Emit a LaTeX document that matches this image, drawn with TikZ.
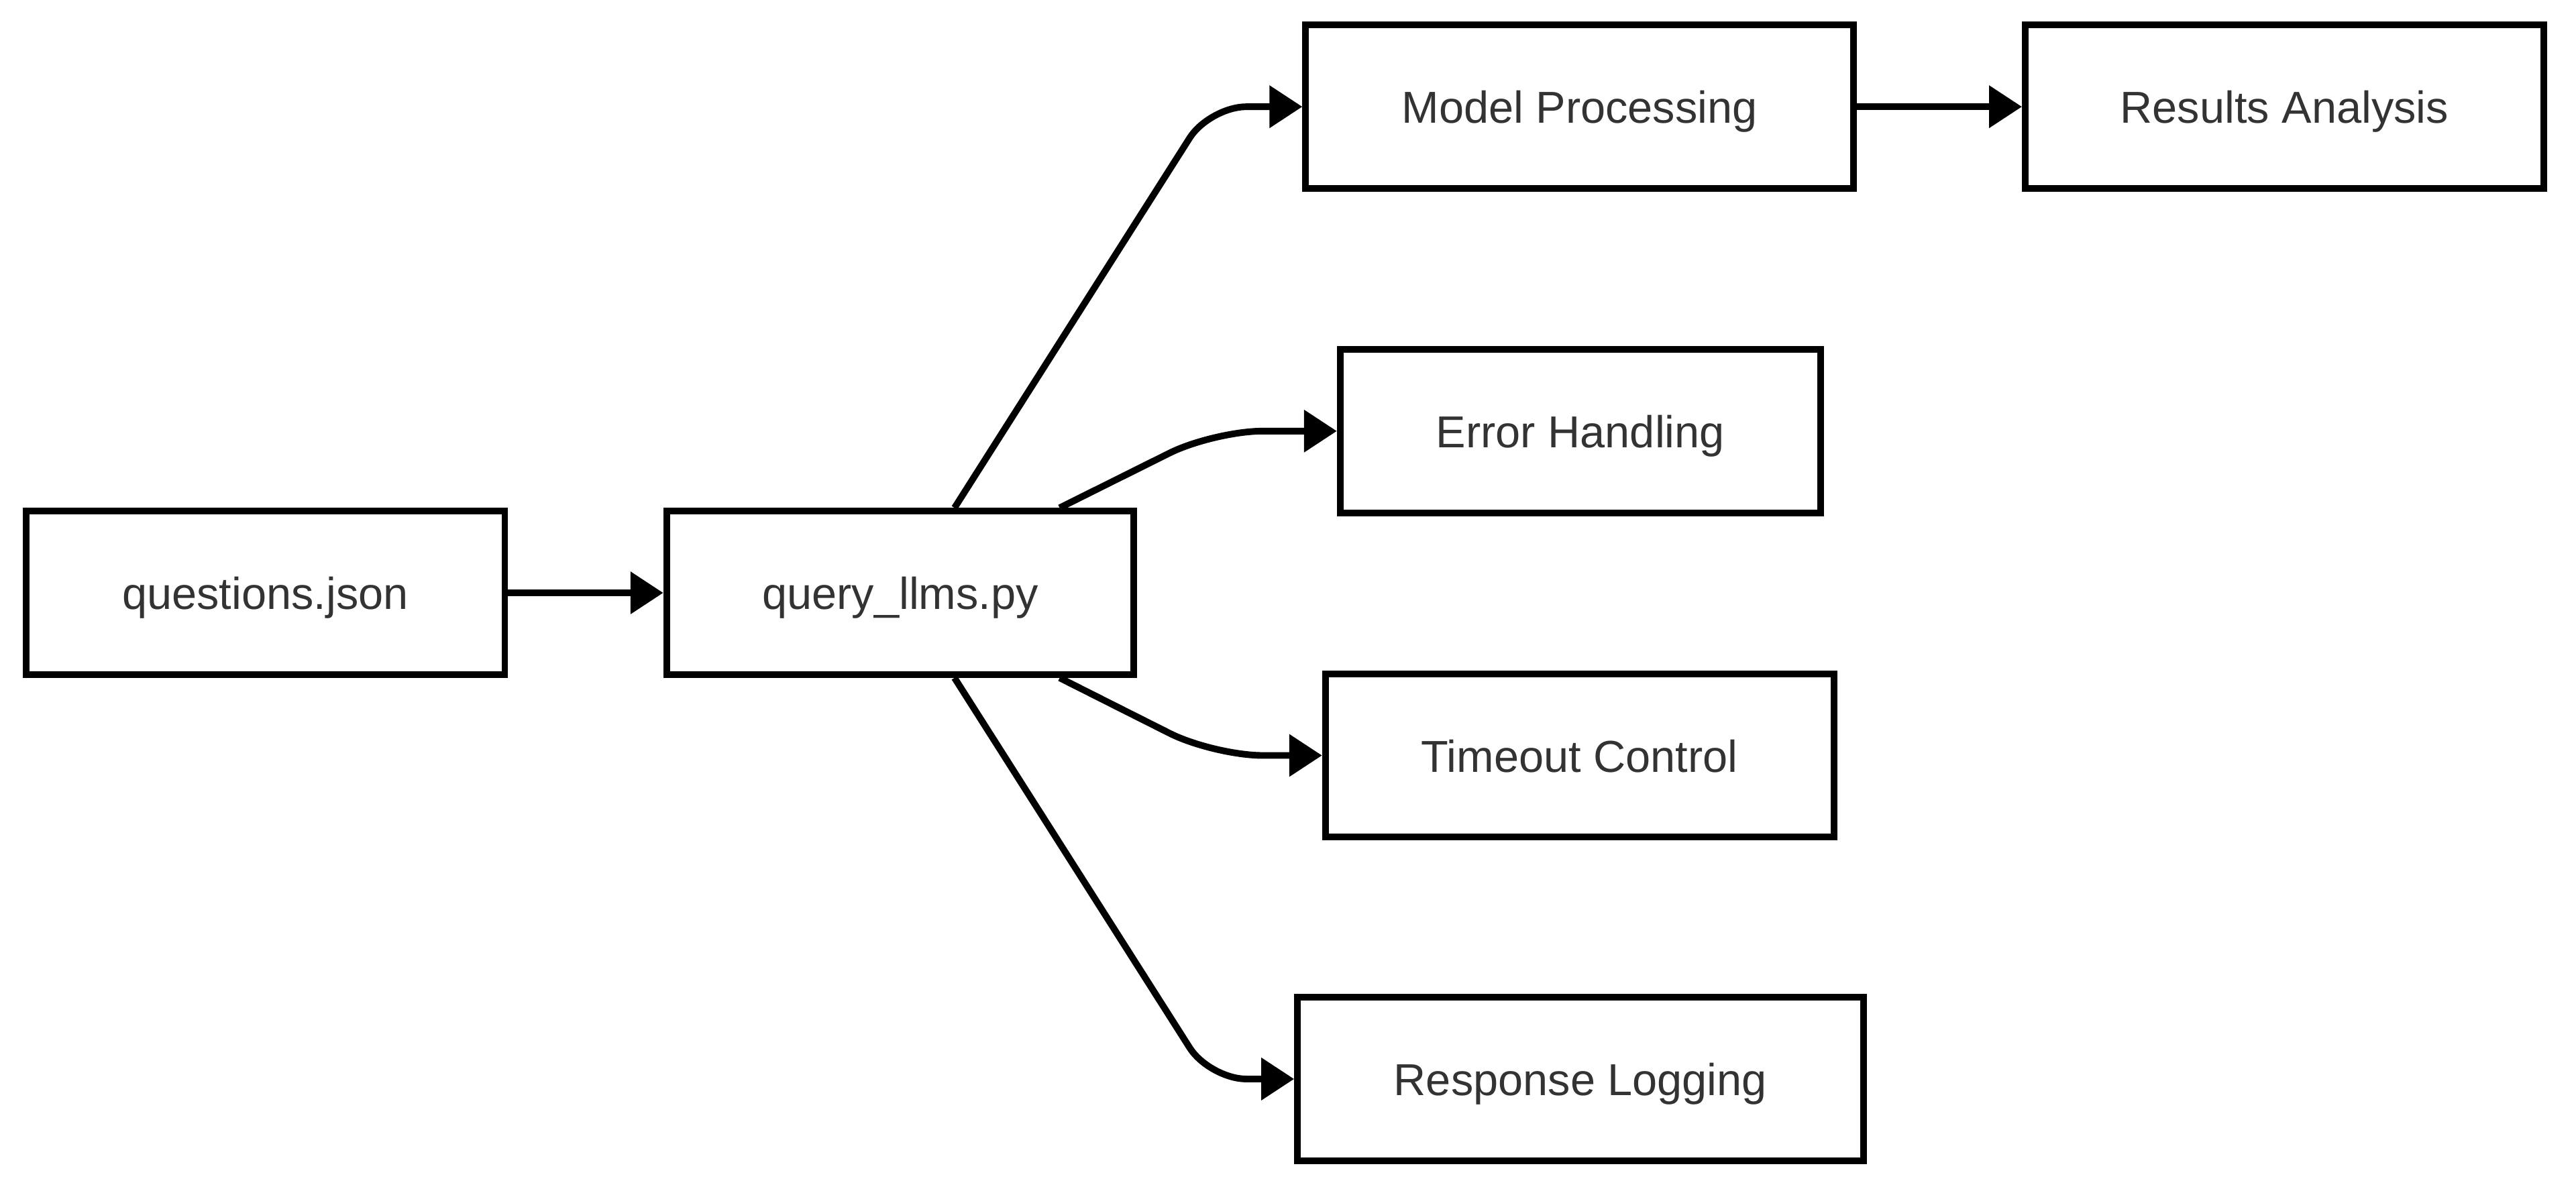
\documentclass[tikz,border=0pt]{standalone}
\usepackage{fontspec}
\setmainfont{Liberation Sans}
\usetikzlibrary{arrows.meta}
\definecolor{txtgray}{HTML}{333333}
\tikzset{
  box/.style={draw=black, line width=2.3pt, fill=white, minimum height=1.99cm,
    inner sep=0pt, text height=0.45cm, text depth=0.05cm, text=txtgray,
    font=\fontsize{15.5}{18}\selectfont},
  flow/.style={draw=black, line width=2.3pt, line join=round,
    -{Triangle[length=0.4cm, width=0.5cm]}}
}
\begin{document}
\begin{tikzpicture}
			\useasboundingbox (0,0) rectangle (31.36,14.5);
			\node[box, minimum width=5.83cm] (questions) at (3.23,7.28) {questions.json};
			\node[box, minimum width=5.69cm] (query) at (10.96,7.28) {query\_llms.py};
			\node[box, minimum width=6.67cm] (model) at (19.23,13.2) {Model Processing};
			\node[box, minimum width=6.31cm] (results) at (27.81,13.2) {Results Analysis};
			\node[box, minimum width=5.85cm] (error) at (19.24,9.25) {Error Handling};
			\node[box, minimum width=6.19cm] (timeout) at (19.23,5.3) {Timeout Control};
			\node[box, minimum width=6.89cm] (logging) at (19.24,1.36) {Response Logging};
			\draw[flow] (questions) -- (query);
			\draw[flow] (model) -- (results);
			\foreach \dst/\side/\dx/\cx/\r in {model/north/0.66/1.13/0.45, error/north/1.94/1.5/0.6,
				timeout/south/1.94/1.32/0.6, logging/south/0.66/1.03/0.45}
			\draw[flow, rounded corners=\r cm] ([xshift=\dx cm]query.\side) -- ([xshift=-\cx cm]\dst.west) -- (\dst.west);
\end{tikzpicture}
\end{document}
